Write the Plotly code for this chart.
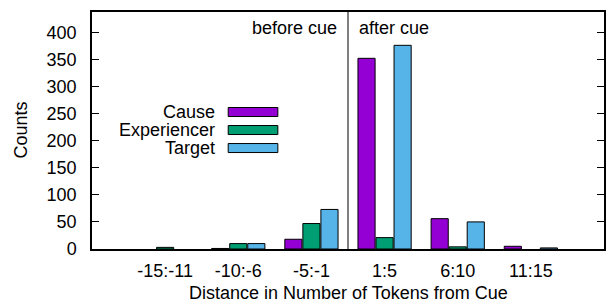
import plotly.graph_objects as go

categories = ["-15:-11", "-10:-6", "-5:-1", "1:5", "6:10", "11:15"]
cause = [0, 1, 18, 352, 56, 5]
experiencer = [3, 10, 47, 21, 4, 0]
target = [0, 10, 73, 376, 50, 2]
series_names = ["Cause", "Experiencer", "Target"]
series_colors = ["#9400d3", "#009e73", "#56b4e9"]
y_ticks = [0, 50, 100, 150, 200, 250, 300, 350, 400]

FONT = "Liberation Sans, Arial, Helvetica, sans-serif"
FS = 18
x_idx = list(range(len(categories)))

fig = go.Figure()
for name, vals, col in zip(series_names, [cause, experiencer, target], series_colors):
    fig.add_trace(go.Bar(
        x=x_idx, y=vals, name=name,
        marker=dict(color=col,
                    line=dict(color="black", width=[1 if v > 0 else 0 for v in vals])),
        showlegend=False,
    ))

# vertical cue separator between "-5:-1" and "1:5"
fig.add_shape(type="line", xref="x", yref="paper", x0=2.5, x1=2.5, y0=0, y1=1,
              line=dict(color="black", width=1))
fig.add_annotation(x=2.5, xref="x", y=0.932, yref="paper", text="before cue",
                   showarrow=False, xanchor="right", yanchor="middle", xshift=-9,
                   font=dict(family=FONT, size=FS, color="black"))
fig.add_annotation(x=2.5, xref="x", y=0.932, yref="paper", text="after cue",
                   showarrow=False, xanchor="left", yanchor="middle", xshift=9,
                   font=dict(family=FONT, size=FS, color="black"))

# gnuplot-style legend (text right, swatch after)
leg_y = [0.578, 0.502, 0.426]
for name, col, yy in zip(series_names, series_colors, leg_y):
    fig.add_annotation(x=0.242, xref="paper", y=yy, yref="paper", text=name,
                       showarrow=False, xanchor="right", yanchor="middle",
                       borderpad=0,
                       font=dict(family=FONT, size=FS, color="black"))
    fig.add_shape(type="rect", xref="paper", yref="paper",
                  x0=0.266, x1=0.363, y0=yy - 0.019, y1=yy + 0.019,
                  fillcolor=col, line=dict(color="black", width=1))

# axis titles
fig.add_annotation(x=0.5, xref="paper", y=-0.186, yref="paper",
                   text="Distance in Number of Tokens from Cue",
                   showarrow=False, xanchor="center", yanchor="middle",
                   font=dict(family=FONT, size=FS, color="black"))
fig.add_annotation(x=-0.1406, xref="paper", y=0.5, yref="paper", text="Counts",
                   showarrow=False, xanchor="center", yanchor="middle", textangle=-90,
                   font=dict(family=FONT, size=FS, color="black"))

fig.update_layout(
    width=606, height=307,
    margin=dict(l=92, r=2, t=12, b=58),
    paper_bgcolor="white", plot_bgcolor="white",
    barmode="group", bargap=0.26, bargroupgap=0.05,
    font=dict(family=FONT, size=FS, color="black"),
    xaxis=dict(
        range=[-1, 6], tickmode="array", tickvals=x_idx, ticktext=categories,
        showline=True, linecolor="black", linewidth=1.5, mirror=True,
        ticks="", showgrid=False, zeroline=False, ticklabelstandoff=5,
        automargin=False, tickfont=dict(size=FS),
    ),
    yaxis=dict(
        range=[0, 437.5], tickmode="array", tickvals=y_ticks,
        showline=True, linecolor="black", linewidth=1.5, mirror="ticks",
        ticks="inside", ticklen=7, tickcolor="black", tickwidth=1,
        showgrid=False, zeroline=False, ticklabelstandoff=10,
        automargin=False, tickfont=dict(size=FS),
    ),
)

fig.write_html(
    "out.html",
    config={"displayModeBar": False},
    post_script="document.body.style.margin='0';document.body.style.padding='0';",
)
